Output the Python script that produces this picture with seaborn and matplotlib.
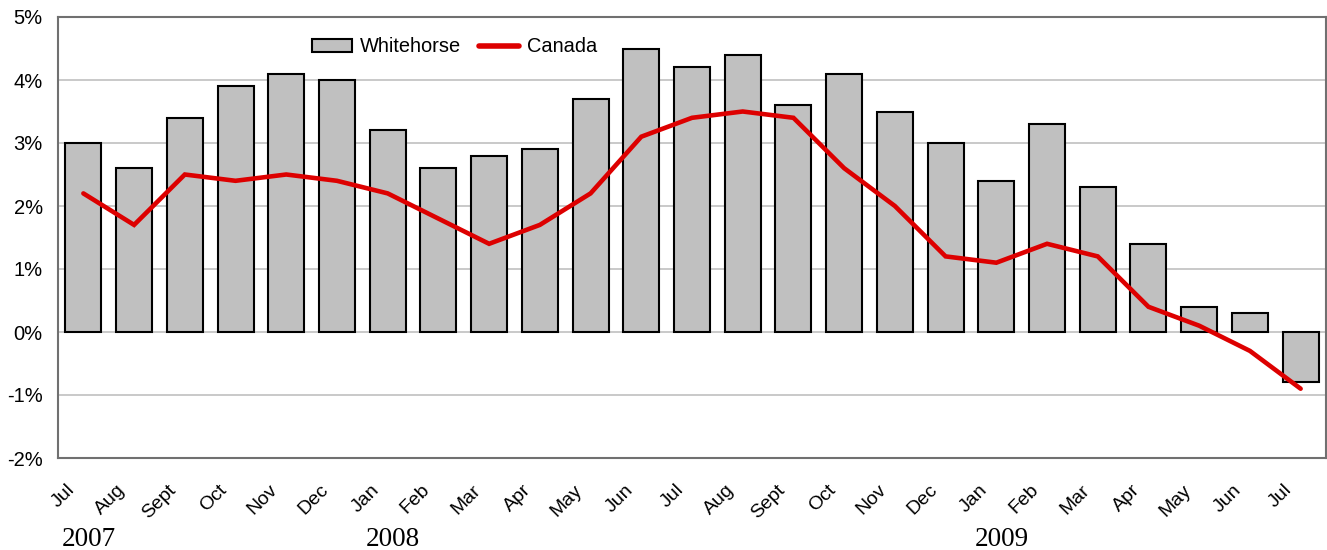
import numpy as np
import pandas as pd
import matplotlib
matplotlib.use("Agg")
import matplotlib.pyplot as plt
import matplotlib.transforms as mtransforms
import seaborn as sns
from matplotlib.patches import Patch
from matplotlib.lines import Line2D

months = ["Jul", "Aug", "Sept", "Oct", "Nov", "Dec", "Jan", "Feb", "Mar", "Apr", "May", "Jun",
          "Jul", "Aug", "Sept", "Oct", "Nov", "Dec", "Jan", "Feb", "Mar", "Apr", "May", "Jun", "Jul"]
whitehorse = [3.0, 2.6, 3.4, 3.9, 4.1, 4.0, 3.2, 2.6, 2.8, 2.9, 3.7, 4.5,
              4.2, 4.4, 3.6, 4.1, 3.5, 3.0, 2.4, 3.3, 2.3, 1.4, 0.4, 0.3, -0.8]
canada = [2.2, 1.7, 2.5, 2.4, 2.5, 2.4, 2.2, 1.8, 1.4, 1.7, 2.2, 3.1,
          3.4, 3.5, 3.4, 2.6, 2.0, 1.2, 1.1, 1.4, 1.2, 0.4, 0.1, -0.3, -0.9]
years = ["2007", "2008", "2009"]
year_pos = [0, 6, 18]
yticks = [-2, -1, 0, 1, 2, 3, 4, 5]

sns.set_theme(style="white")
plt.rcParams['font.family'] = ['Liberation Sans', 'DejaVu Sans']
plt.rcParams['text.color'] = 'black'
plt.rcParams['xtick.color'] = 'black'
plt.rcParams['ytick.color'] = 'black'

df = pd.DataFrame({"idx": np.arange(len(months)), "month": months,
                   "Whitehorse": whitehorse, "Canada": canada})

fig = plt.figure(figsize=(13.27, 5.5), dpi=100)
ax = fig.add_axes([58/1327, 1-458/550, (1326-58)/1327, (458-17)/550])

sns.barplot(data=df, x="idx", y="Whitehorse", ax=ax, color="#C0C0C0",
            saturation=1, width=0.71, edgecolor="black", linewidth=1.5, zorder=2)
ax.plot(df["idx"], df["Canada"], color="#DD0000", linewidth=3.3, zorder=3,
        solid_joinstyle="miter")

ax.set_xlim(-0.5, len(months) - 0.5)
ax.set_ylim(-2, 5)
ax.set_yticks(yticks)
ax.set_yticklabels([f"{v}%" for v in yticks], fontsize=14.5, color="black")
ax.set_xticks(df["idx"])
ax.set_xticklabels(months, rotation=45, ha="right", rotation_mode="anchor",
                   fontsize=14, color="black")
ax.tick_params(axis="y", length=0, pad=11)
ax.tick_params(axis="x", length=0, pad=9)
offset = mtransforms.ScaledTranslation(-17/100, -11/100, fig.dpi_scale_trans)
for lab in ax.get_xticklabels():
    lab.set_transform(lab.get_transform() + offset)
ax.set_xlabel("")
ax.set_ylabel("")
ax.grid(axis="y", color="#C0C0C0", linewidth=1.2, zorder=0)
ax.set_axisbelow(True)
for s in ax.spines.values():
    s.set_color("#707070")
    s.set_linewidth(1.5)
    s.set_visible(True)

trans = mtransforms.blended_transform_factory(ax.transData, fig.transFigure)
for y, p in zip(years, year_pos):
    ax.text(p + 0.1, 1 - 540/550, y, transform=trans, ha="center", va="center",
            fontsize=19.5, color="black", family=["Liberation Serif", "DejaVu Serif"])

handles = [Patch(facecolor="#C0C0C0", edgecolor="black", linewidth=1.5),
           Line2D([0], [0], color="#DD0000", linewidth=4)]
leg = ax.legend(handles, ["Whitehorse", "Canada"], loc="center", bbox_to_anchor=(0.313, 0.932),
                ncol=2, frameon=False, fontsize=14.4, handlelength=2.0, handletextpad=0.4,
                columnspacing=0.9, handleheight=0.65)
for t in leg.get_texts():
    t.set_color("black")

fig.savefig("out.png", dpi=100)
